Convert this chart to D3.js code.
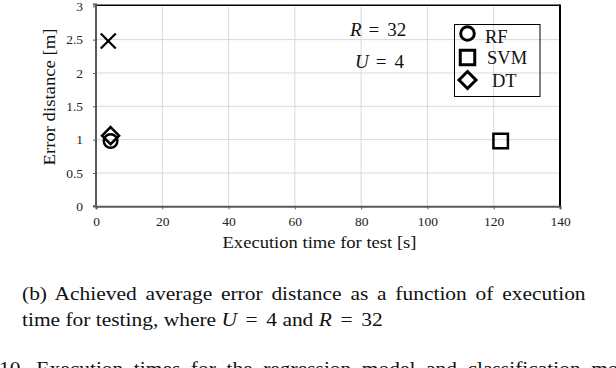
<!DOCTYPE html>
<html>
<head>
<meta charset="utf-8">
<script src="https://cdn.jsdelivr.net/npm/d3@7"></script>
<style>
  html, body { margin: 0; padding: 0; background: #fff; }
  svg { display: block; font-family: "Times New Roman", "Liberation Serif", serif; }
</style>
</head>
<body>
<div id="chart"></div>
<script>
// data
const models = ["RF", "SVM", "DT"];
const testTime = [4.4, 122.1, 4.4];      // s
const errorDist = [0.98, 0.98, 1.06];    // m
// unlabelled cross marker
const crossTime = [3.7];
const crossError = [2.48];

const xTicks = [0, 20, 40, 60, 80, 100, 120, 140];
const yTicks = [0, 0.5, 1, 1.5, 2, 2.5, 3];

const width = 616;
const height = 368;

const PLOT_LEFT = 96;
const PLOT_RIGHT = 560;
const PLOT_TOP = 6.3;
const PLOT_BOTTOM = 206.3;

const GRID_COLOR = "#d9d9d9";
const AXIS_COLOR = "#595959";
const MARK_STROKE = 2.5;
const TEXT_COLOR = "#111";
const CAPTION_STRETCH = 1.1; // the scanned caption is a little wider than plain Times

const svg = d3.select("#chart")
  .append("svg")
  .attr("width", width)
  .attr("height", height);

const x = d3.scaleLinear().domain([0, 140]).range([PLOT_LEFT, PLOT_RIGHT]);
const y = d3.scaleLinear().domain([0, 3]).range([PLOT_BOTTOM, PLOT_TOP]);

// grid lines
svg.append("g")
  .selectAll("line")
  .data(xTicks.slice(1, -1))
  .enter()
  .append("line")
  .attr("x1", d => x(d)).attr("x2", d => x(d))
  .attr("y1", PLOT_TOP).attr("y2", PLOT_BOTTOM)
  .attr("stroke", GRID_COLOR)
  .attr("stroke-width", 1);

svg.append("g")
  .selectAll("line")
  .data(yTicks.slice(1, -1))
  .enter()
  .append("line")
  .attr("x1", PLOT_LEFT).attr("x2", PLOT_RIGHT)
  .attr("y1", d => y(d)).attr("y2", d => y(d))
  .attr("stroke", GRID_COLOR)
  .attr("stroke-width", 1);

// frame: black top/right, grey axes
svg.append("line")
  .attr("x1", PLOT_LEFT).attr("x2", PLOT_RIGHT)
  .attr("y1", PLOT_TOP - 1).attr("y2", PLOT_TOP - 1)
  .attr("stroke", "#000").attr("stroke-width", 1.5);
svg.append("line")
  .attr("x1", PLOT_RIGHT).attr("x2", PLOT_RIGHT)
  .attr("y1", PLOT_TOP - 1.7).attr("y2", PLOT_BOTTOM)
  .attr("stroke", "#000").attr("stroke-width", 2);

// axes
const xAxis = d3.axisBottom(x).tickValues(xTicks).tickSize(3).tickPadding(7).tickFormat(d3.format("d"));
const yAxis = d3.axisLeft(y).tickValues(yTicks).tickSize(3).tickPadding(10).tickFormat(d => String(d));

const gx = svg.append("g").attr("transform", `translate(0,${PLOT_BOTTOM})`).call(xAxis);
const gy = svg.append("g").attr("transform", `translate(${PLOT_LEFT},0)`).call(yAxis);

[gx, gy].forEach(g => {
  g.select(".domain").attr("stroke", AXIS_COLOR).attr("stroke-width", 2);
  g.selectAll(".tick line").attr("stroke", AXIS_COLOR).attr("stroke-width", 1);
  g.selectAll(".tick text")
    .attr("fill", "#222")
    .style("font-size", "13.5px")
    .style("font-family", "'Times New Roman', 'Liberation Serif', serif");
});
gy.select(".domain").attr("d", `M-3,${PLOT_TOP - 1.7}H0V${PLOT_BOTTOM}H-3`);

// axis titles
svg.append("text")
  .attr("x", 319.5)
  .attr("y", 248)
  .attr("text-anchor", "middle")
  .attr("textLength", 194)
  .attr("lengthAdjust", "spacingAndGlyphs")
  .style("font-size", "16.5px")
  .attr("fill", TEXT_COLOR)
  .text("Execution time for test [s]");

svg.append("text")
  .attr("transform", "translate(55,97) rotate(-90)")
  .attr("text-anchor", "middle")
  .attr("textLength", 137)
  .attr("lengthAdjust", "spacingAndGlyphs")
  .style("font-size", "16.5px")
  .attr("fill", TEXT_COLOR)
  .text("Error distance [m]");

// marker shapes
const shapes = {
  RF: d3.symbol().type(d3.symbolCircle).size(Math.PI * 6.8 * 6.8),
  SVM: d3.symbol().type(d3.symbolSquare).size(14.5 * 14.5),
  DT: () => "M0,-8.5L8.5,0L0,8.5L-8.5,0Z"
};
const crossPath = "M-7.5,-7.5L7.5,7.5M7.5,-7.5L-7.5,7.5";

const points = models.map((m, i) => ({ name: m, t: testTime[i], e: errorDist[i] }));

svg.append("g")
  .selectAll("path")
  .data(points)
  .enter()
  .append("path")
  .attr("transform", d => `translate(${x(d.t)},${y(d.e)})`)
  .attr("d", d => shapes[d.name]())
  .attr("fill", "none")
  .attr("stroke", "#000")
  .attr("stroke-width", MARK_STROKE);

svg.append("g")
  .selectAll("path")
  .data(crossTime.map((t, i) => ({ t: t, e: crossError[i] })))
  .enter()
  .append("path")
  .attr("transform", d => `translate(${x(d.t)},${y(d.e)})`)
  .attr("d", crossPath)
  .attr("fill", "none")
  .attr("stroke", "#000")
  .attr("stroke-width", 2.2);

// parameter labels, math style spacing round "="
const params = [
  { sym: "R", val: "32", xx: 350, yy: 35.5 },
  { sym: "U", val: "4", xx: 355, yy: 68 }
];
params.forEach(p => {
  const t = svg.append("text")
    .attr("x", p.xx)
    .attr("y", p.yy)
    .style("font-size", "19px")
    .attr("fill", TEXT_COLOR);
  t.append("tspan").style("font-style", "italic").text(p.sym);
  t.append("tspan").attr("dx", 7).text("=");
  t.append("tspan").attr("dx", 8).text(p.val);
});

// legend
const legend = svg.append("g");
legend.append("rect")
  .attr("x", 454.5).attr("y", 24.5)
  .attr("width", 85.5).attr("height", 72)
  .attr("fill", "none")
  .attr("stroke", "#000")
  .attr("stroke-width", 1);

const legendY = [33.5, 57.5, 80];
const legendBase = [42.7, 64, 87.3];
const legendTextX = [485, 487, 492];
models.forEach((m, i) => {
  legend.append("path")
    .attr("transform", `translate(467.5,${legendY[i]})`)
    .attr("d", shapes[m]())
    .attr("fill", "none")
    .attr("stroke", "#000")
    .attr("stroke-width", 3);
  legend.append("text")
    .attr("x", legendTextX[i])
    .attr("y", legendBase[i])
    .style("font-size", "18.5px")
    .attr("fill", TEXT_COLOR)
    .text(m);
});

// caption below the chart; parts are [text, italic, extra space before]
const captionLines = [
  { parts: [["(b)  Achieved average error distance as a function of execution", false, 0]], x: 22, yy: 300, justify: 589 },
  { parts: [["time for testing, where ", false, 0], ["U", true, 0], [" =", false, 3], [" 4 and ", false, 3],
            ["R", true, 0], [" =", false, 3], [" 32", false, 3]], x: 22, yy: 326.5, justify: null },
  { parts: [["10.  Execution times for the regression model and classification model", false, 0]], x: -1, yy: 375, justify: 650 }
];
captionLines.forEach(line => {
  const g = svg.append("g")
    .attr("transform", `translate(${line.x},0) scale(${CAPTION_STRETCH},1)`);
  const t = g.append("text")
    .attr("x", 0)
    .attr("y", line.yy)
    .style("font-size", "19.5px")
    .attr("fill", TEXT_COLOR);
  line.parts.forEach(p => {
    t.append("tspan")
      .attr("dx", p[2])
      .style("font-style", p[1] ? "italic" : "normal")
      .text(p[0]);
  });
  if (line.justify) {
    const txt = line.parts.map(p => p[0]).join("");
    const spaces = (txt.match(/ /g) || []).length;
    const natural = t.node().getComputedTextLength();
    const extra = ((line.justify - line.x) / CAPTION_STRETCH - natural) / spaces;
    t.style("word-spacing", Math.max(0, extra) + "px");
  }
});
</script>
</body>
</html>
